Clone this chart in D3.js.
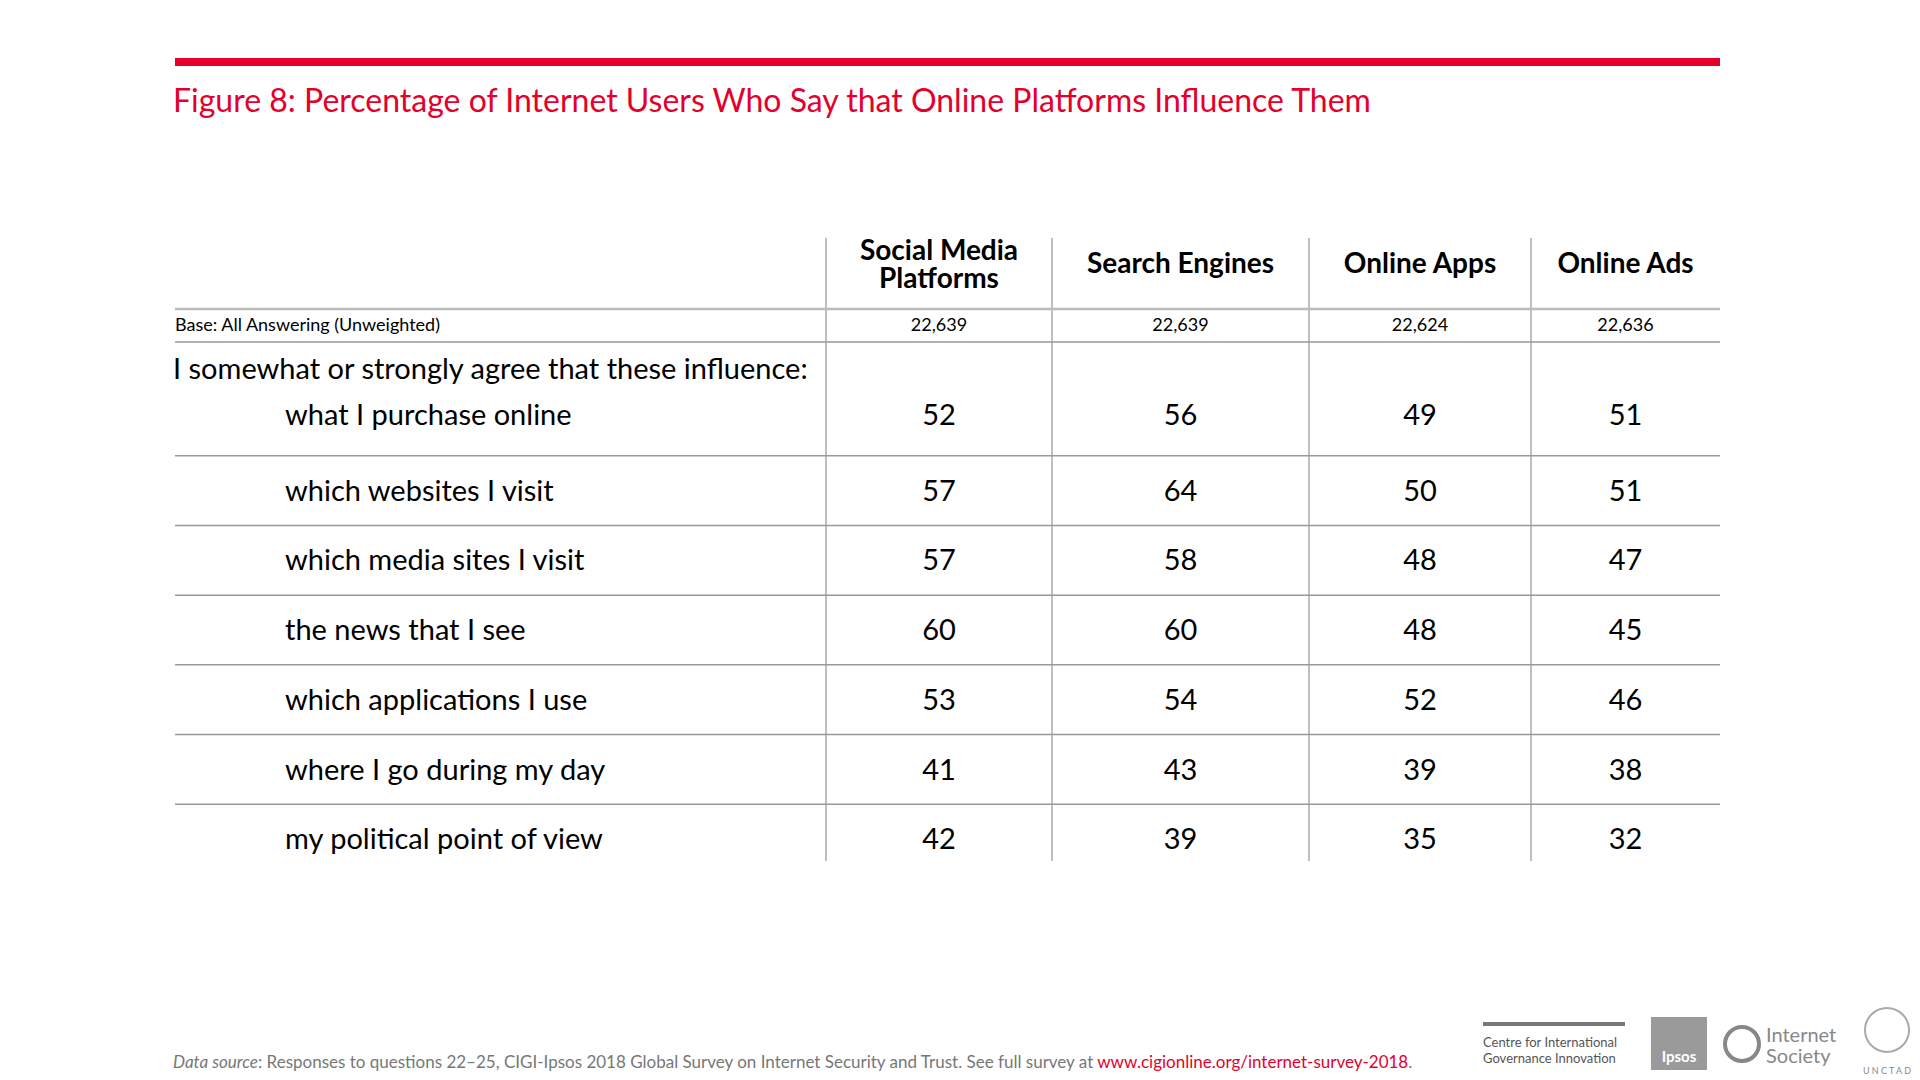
<!DOCTYPE html>
<html>
<head>
<meta charset="utf-8">
<script src="https://cdn.jsdelivr.net/npm/d3@7"></script>
<style>
  body { margin: 0; background: #fff; }
  svg { font-family: 'Lato', 'Noto Sans', sans-serif; }
</style>
</head>
<body>
<div id="chart"></div>
<script>
'use strict'

const columns = ['Social Media|Platforms', 'Search Engines', 'Online Apps', 'Online Ads']
const bases = ['22,639', '22,639', '22,624', '22,636']
const statements = [
  'what I purchase online',
  'which websites I visit',
  'which media sites I visit',
  'the news that I see',
  'which applications I use',
  'where I go during my day',
  'my political point of view'
]
const socialMedia = [52, 57, 57, 60, 53, 41, 42]
const searchEngines = [56, 64, 58, 60, 54, 43, 39]
const onlineApps = [49, 50, 48, 48, 52, 39, 35]
const onlineAds = [51, 51, 47, 45, 46, 38, 32]
const series = [socialMedia, searchEngines, onlineApps, onlineAds]

const red = '#e4002b'
const width = 1920
const height = 1080
const left = 175
const right = 1720
const colEdges = [826, 1052, 1309, 1531, right]

const svg = d3.select('#chart')
  .append('svg')
  .attr('width', width)
  .attr('height', height)

// red bar + title
svg.append('rect')
  .attr('x', left).attr('y', 58)
  .attr('width', right - left).attr('height', 8)
  .attr('fill', red)
svg.append('text')
  .attr('x', left - 2).attr('y', 112)
  .attr('fill', red)
  .attr('font-size', 32)
  .text('Figure 8: Percentage of Internet Users Who Say that Online Platforms Influence Them')

const colCenter = d3.scaleOrdinal()
  .domain(columns)
  .range(columns.map((c, i) => (colEdges[i] + colEdges[i + 1]) / 2))

const yScale = d3.scaleBand()
  .domain(statements)
  .range([386, 874])

// column dividers
svg.selectAll('line.col')
  .data(columns)
  .enter()
  .append('line')
  .attr('x1', (d, i) => colEdges[i])
  .attr('x2', (d, i) => colEdges[i])
  .attr('y1', 238)
  .attr('y2', 861)
  .attr('stroke', '#aaa')
  .attr('stroke-width', 1.5)

// header lines
svg.append('line')
  .attr('x1', left).attr('x2', right).attr('y1', 309).attr('y2', 309)
  .attr('stroke', '#bbb').attr('stroke-width', 2.5)
svg.append('line')
  .attr('x1', left).attr('x2', right).attr('y1', 342).attr('y2', 342)
  .attr('stroke', '#999').attr('stroke-width', 1.5)

// row separators
svg.selectAll('line.row')
  .data(statements.slice(1))
  .enter()
  .append('line')
  .attr('x1', left).attr('x2', right)
  .attr('y1', d => yScale(d))
  .attr('y2', d => yScale(d))
  .attr('stroke', '#999')
  .attr('stroke-width', 1.5)

// column headers
const head = svg.selectAll('text.head')
  .data(columns)
  .enter()
  .append('text')
  .attr('text-anchor', 'middle')
  .attr('font-size', 28)
  .attr('font-weight', 'bold')
  .attr('y', d => d.includes('|') ? 260 : 273)
head.selectAll('tspan')
  .data(d => d.split('|').map(t => ({ t, c: d })))
  .enter()
  .append('tspan')
  .attr('x', d => colCenter(d.c))
  .attr('dy', (d, i) => i ? 28 : 0)
  .text(d => d.t)

// base row
svg.append('text')
  .attr('x', left).attr('y', 331)
  .attr('font-size', 18)
  .text('Base: All Answering (Unweighted)')
svg.selectAll('text.base')
  .data(bases)
  .enter()
  .append('text')
  .attr('x', (d, i) => colCenter(columns[i]))
  .attr('y', 331)
  .attr('text-anchor', 'middle')
  .attr('font-size', 18)
  .text(d => d)

svg.append('text')
  .attr('x', left - 2).attr('y', 379)
  .attr('font-size', 29)
  .text('I somewhat or strongly agree that these influence:')

// statement labels
const rowY = (d, i) => yScale(d) + yScale.bandwidth() / 2 + (i === 0 ? -6 : 0)
svg.selectAll('text.stmt')
  .data(statements)
  .enter()
  .append('text')
  .attr('x', 285)
  .attr('y', rowY)
  .attr('dy', '0.35em')
  .attr('font-size', 29)
  .text(d => d)

// values
series.forEach((vals, ci) => {
  svg.selectAll(null)
    .data(vals)
    .enter()
    .append('text')
    .attr('x', colCenter(columns[ci]))
    .attr('y', (d, i) => rowY(statements[i], i))
    .attr('dy', '0.35em')
    .attr('text-anchor', 'middle')
    .attr('font-size', 29)
    .text(d => d)
})

// footer
const src = svg.append('text')
  .attr('x', left - 2).attr('y', 1068)
  .attr('font-size', 17)
  .attr('fill', '#777')
src.append('tspan').attr('font-style', 'italic').text('Data source')
src.append('tspan').text(': Responses to questions 22–25, CIGI-Ipsos 2018 Global Survey on Internet Security and Trust. See full survey at ')
src.append('tspan').attr('fill', red).text('www.cigionline.org/internet-survey-2018')
src.append('tspan').text('.')

// logos (text approximations)
svg.append('rect').attr('x', 1483).attr('y', 1022).attr('width', 142).attr('height', 4).attr('fill', '#777')
svg.append('text').attr('x', 1483).attr('y', 1047).attr('font-size', 13).attr('fill', '#555').text('Centre for International')
svg.append('text').attr('x', 1483).attr('y', 1063).attr('font-size', 13).attr('fill', '#555').text('Governance Innovation')
svg.append('rect').attr('x', 1651).attr('y', 1017).attr('width', 56).attr('height', 53).attr('fill', '#9a9a9a')
svg.append('text').attr('x', 1679).attr('y', 1062).attr('text-anchor', 'middle').attr('font-size', 15).attr('font-weight', 'bold').attr('fill', '#fff').text('Ipsos')
svg.append('circle').attr('cx', 1742).attr('cy', 1044).attr('r', 17).attr('fill', 'none').attr('stroke', '#888').attr('stroke-width', 4)
svg.append('text').attr('x', 1766).attr('y', 1042).attr('font-size', 20).attr('fill', '#888').text('Internet')
svg.append('text').attr('x', 1766).attr('y', 1063).attr('font-size', 20).attr('fill', '#888').text('Society')
svg.append('circle').attr('cx', 1887).attr('cy', 1030).attr('r', 22).attr('fill', 'none').attr('stroke', '#aaa').attr('stroke-width', 2)
svg.append('text').attr('x', 1887).attr('y', 1074).attr('text-anchor', 'middle').attr('font-size', 9).attr('fill', '#888').text('U N C T A D')
</script>
</body>
</html>
